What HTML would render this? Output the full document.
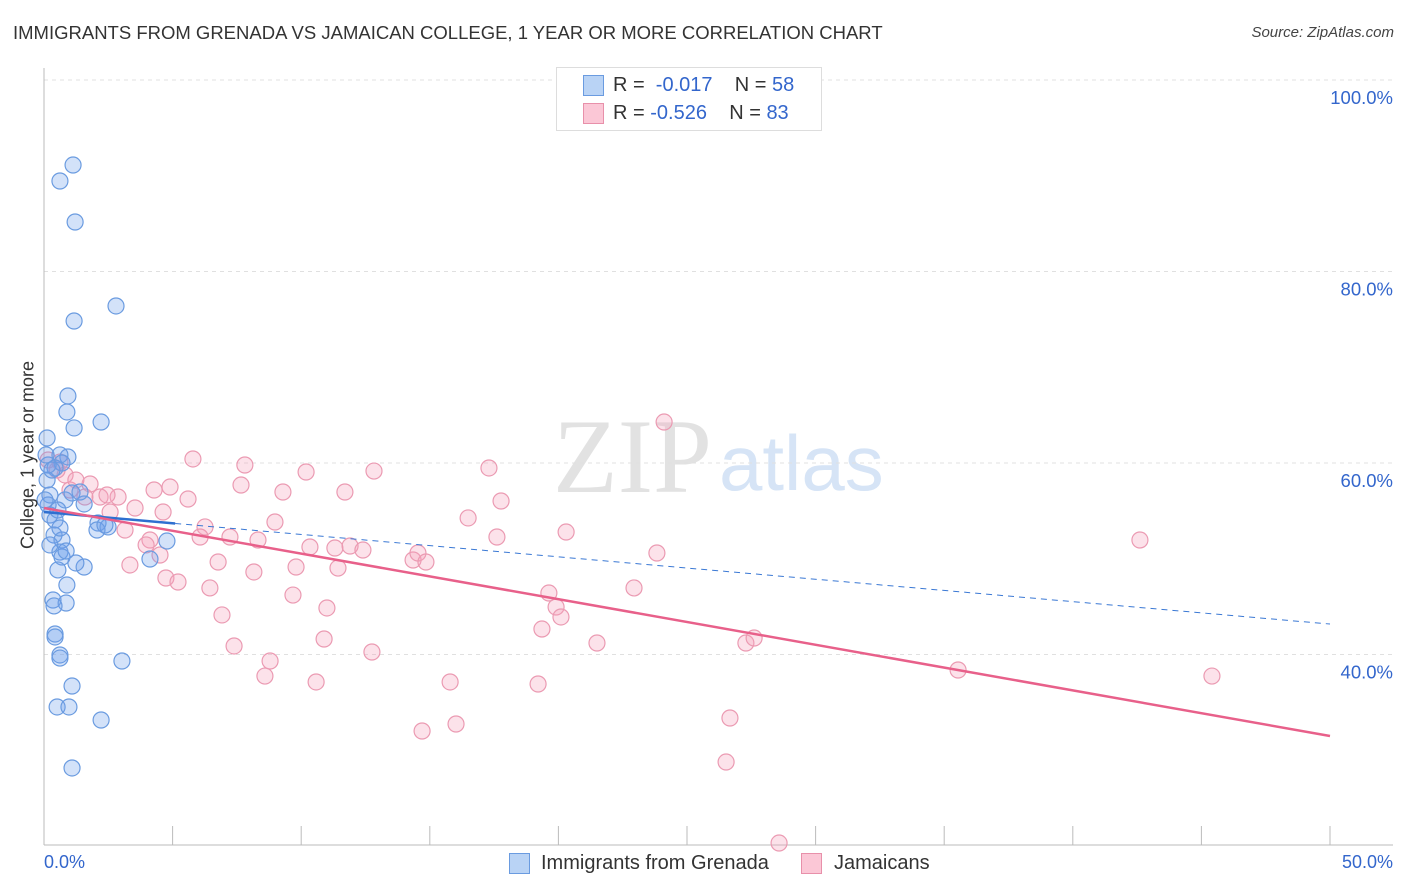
<!DOCTYPE html>
<html><head><meta charset="utf-8"><style>
body{margin:0;background:#fff;font-family:"Liberation Sans",sans-serif;}
#wrap{position:relative;width:1406px;height:892px;overflow:hidden;}
.t{position:absolute;white-space:nowrap;}
</style></head><body>
<div id="wrap">
<div class="t" style="left:13px;top:22px;font-size:18.5px;color:#333;">IMMIGRANTS FROM GRENADA VS JAMAICAN COLLEGE, 1 YEAR OR MORE CORRELATION CHART</div>
<div class="t" style="right:12px;top:24px;font-size:15px;color:#444;font-style:italic;">Source: ZipAtlas.com</div>
<svg id="plot" width="1406" height="892" style="position:absolute;left:0;top:0"></svg>
<div class="t" style="left:556px;top:67px;width:264px;height:62px;border:1px solid #ddd;background:#fff;"></div>
<div class="t" style="left:583px;top:75px;width:19px;height:19px;background:#b9d3f5;border:1px solid #6a9be0;"></div>
<div class="t" style="left:583px;top:103px;width:19px;height:19px;background:#fbc7d6;border:1px solid #e890aa;"></div>
<div class="t" style="left:613px;top:74px;font-size:20px;color:#333;">R = <span style="color:#3366cc">&nbsp;-0.017</span>&nbsp;&nbsp;&nbsp;&nbsp;N = <span style="color:#3366cc">58</span></div>
<div class="t" style="left:613px;top:102px;font-size:20px;color:#333;">R = <span style="color:#3366cc">-0.526</span>&nbsp;&nbsp;&nbsp;&nbsp;N = <span style="color:#3366cc">83</span></div>
<div class="t" style="left:28px;top:455px;font-size:18px;color:#333;transform:translate(-50%,-50%) rotate(-90deg);">College, 1 year or more</div>
<div class="t" style="left:44px;top:852px;font-size:18px;color:#3366cc;">0.0%</div>
<div class="t" style="right:13px;top:852px;font-size:18px;color:#3366cc;">50.0%</div>
<div class="t" style="left:509px;top:853px;width:19px;height:19px;background:#b9d3f5;border:1px solid #6a9be0;"></div>
<div class="t" style="left:541px;top:852px;font-size:20px;color:#333;">Immigrants from Grenada</div>
<div class="t" style="left:801px;top:853px;width:19px;height:19px;background:#fbc7d6;border:1px solid #e890aa;"></div>
<div class="t" style="left:834px;top:852px;font-size:20px;color:#333;">Jamaicans</div>
</div>
<script>
const yTicks=[100,80,60,40];
const yTickLabels=["100.0%","80.0%","60.0%","40.0%"];
const blueX=[1.13,0.62,1.21,2.80,1.17,0.93,0.89,1.17,2.22,0.12,0.93,0.62,0.70,0.43,0.12,0.23,0.82,1.09,1.56,0.16,0.23,0.43,2.10,2.49,2.06,0.39,0.70,0.62,0.70,0.86,1.56,1.24,0.54,0.89,0.35,0.86,0.39,4.78,4.12,0.43,0.43,0.62,0.62,3.03,1.09,0.51,0.97,2.22,1.09,2.37,1.40,0.16,0.31,0.54,0.08,0.04,0.23,0.62];
const blueY=[91.12,89.45,85.17,76.40,74.83,67.00,65.33,63.66,64.28,62.61,60.63,60.84,60.00,59.48,58.22,56.66,56.14,56.87,55.72,55.61,54.57,54.05,53.73,53.32,53.00,52.48,51.96,50.70,50.18,50.81,49.14,49.56,48.83,47.26,45.69,45.38,45.07,51.85,49.97,42.14,41.83,39.95,39.63,39.32,36.71,34.52,34.52,33.16,28.15,53.52,56.97,59.79,59.27,55.09,60.84,56.14,51.44,53.21];
const pinkX=[24.11,5.79,7.81,10.19,12.83,17.30,0.62,0.16,0.82,1.01,1.79,2.18,2.88,4.28,4.90,5.60,7.66,9.29,11.70,17.77,16.49,3.54,2.57,8.98,6.26,3.15,4.12,6.07,7.23,8.32,10.34,11.31,11.90,12.40,20.30,17.61,23.83,42.61,4.51,3.34,6.77,8.16,9.80,11.43,14.35,14.54,14.85,4.74,5.21,6.45,9.68,22.94,19.63,11.00,19.91,6.92,20.10,19.36,10.89,7.39,12.75,21.50,27.29,27.61,8.79,8.59,10.58,15.79,19.21,35.54,45.41,26.67,16.02,14.70,26.52,28.58,1.59,2.45,0.51,1.24,3.97,4.63];
const pinkY=[64.28,60.42,59.79,59.06,59.16,59.48,60.10,60.31,58.75,57.18,57.81,56.45,56.45,57.18,57.49,56.24,57.70,56.97,56.97,56.03,54.26,55.30,54.88,53.84,53.32,53.00,51.96,52.27,52.27,51.96,51.23,51.12,51.33,50.91,52.79,52.27,50.60,51.96,50.39,49.35,49.66,48.62,49.14,49.03,49.87,50.60,49.66,47.99,47.57,46.95,46.21,46.95,46.42,44.86,44.96,44.13,43.92,42.66,41.62,40.89,40.26,41.20,41.20,41.72,39.32,37.75,37.13,37.13,36.92,38.38,37.75,33.37,32.74,32.01,28.77,20.31,56.45,56.66,59.27,58.22,51.44,54.88];
const blueTrend=[54.88,43.18]; // y at x=0 and x=50
const blueSolidEnd=5.1;
const pinkTrend=[55.3,31.49];
const NS="http://www.w3.org/2000/svg";
const svg=document.getElementById('plot');
const X=v=>44+v*25.72;
const Y=v=>463-(v-60)*9.575;
function mk(tag,attrs){const e=document.createElementNS(NS,tag);for(const k in attrs)e.setAttribute(k,attrs[k]);svg.appendChild(e);return e;}
let w=mk('text',{x:553,y:492,'font-size':106,'font-family':'Liberation Serif, serif',fill:'#e2e2e2'});w.textContent='ZIP';


w=mk('text',{x:719,y:490,'font-size':78,'font-family':'Liberation Sans, sans-serif',fill:'#d6e4f6'});w.textContent='atlas';


yTicks.forEach((t,i)=>{
 const g=mk('line',{x1:44,x2:1393,y1:Y(t),y2:Y(t),stroke:'#e0e0e0','stroke-dasharray':'4,4'});
 
 
 const l=mk('text',{x:1393,y:Y(t)+24,'text-anchor':'end','font-size':18.5,fill:'#3366cc','font-family':'Liberation Sans, sans-serif'});
 l.textContent=yTickLabels[i];
 
 
});
let a=mk('line',{x1:44,x2:44,y1:68,y2:845,stroke:'#bbb'});


a=mk('line',{x1:44,x2:1393,y1:845,y2:845,stroke:'#bbb'});


for(let k=0;k<=10;k++){const t=mk('line',{x1:X(k*5),x2:X(k*5),y1:826,y2:845,stroke:'#bbb'});
 
 }
for(let i=0;i<pinkX.length;i++){const c=mk('circle',{cx:X(pinkX[i]),cy:Y(pinkY[i]),r:8,fill:'rgba(245,160,185,0.3)',stroke:'#eb9ab2','stroke-width':1.2});
 
 }
for(let i=0;i<blueX.length;i++){const c=mk('circle',{cx:X(blueX[i]),cy:Y(blueY[i]),r:8,fill:'rgba(110,160,235,0.3)',stroke:'#6a9be0','stroke-width':1.2});
 
 }
const bAt=x=>blueTrend[0]+(blueTrend[1]-blueTrend[0])*x/50;
let l=mk('line',{x1:X(blueSolidEnd),y1:Y(bAt(blueSolidEnd)),x2:X(50),y2:Y(blueTrend[1]),stroke:'#3a78d4','stroke-width':1,'stroke-dasharray':'6,5'});


l=mk('line',{x1:X(0),y1:Y(blueTrend[0]),x2:X(blueSolidEnd),y2:Y(bAt(blueSolidEnd)),stroke:'#2e6fd0','stroke-width':2.5});


l=mk('line',{x1:X(0),y1:Y(pinkTrend[0]),x2:X(50),y2:Y(pinkTrend[1]),stroke:'#e8608a','stroke-width':2.5});


</script>
</body></html>
